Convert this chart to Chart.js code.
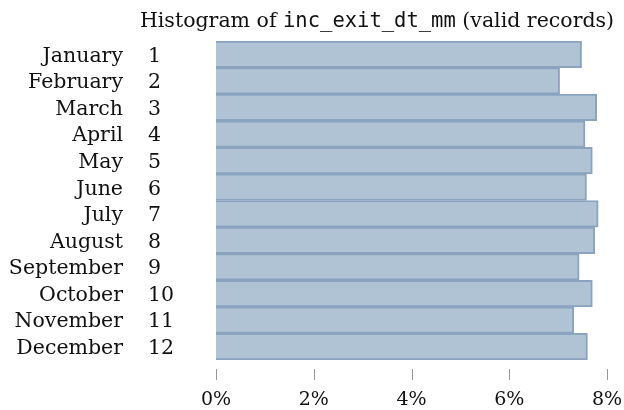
<!DOCTYPE html>
<html>
<head>
<meta charset="utf-8">
<script src="https://cdn.jsdelivr.net/npm/chart.js@4"></script>
<style>
  html, body { margin: 0; padding: 0; background: #fff; }
  #wrap { width: 624px; height: 410px; }
</style>
</head>
<body>
<div id="wrap"><canvas id="histChart"></canvas></div>
<script>
// Share of valid records per exit month (percent)
const months = ['January', 'February', 'March', 'April', 'May', 'June',
    'July', 'August', 'September', 'October', 'November', 'December'];
const monthNums = ['1', '2', '3', '4', '5', '6', '7', '8', '9', '10', '11', '12'];
const shares = [7.48, 7.03, 7.79, 7.55, 7.70, 7.58, 7.82, 7.75, 7.43, 7.70, 7.32, 7.60];
const xTicks = [0, 2, 4, 6, 8];

const serif = '"DejaVu Serif", serif';
const mono = '"DejaVu Sans Mono", monospace';

// Title with the column name set in monospace
const titlePlugin = {
    id: 'mixedTitle',
    afterDraw(chart) {
        const ctx = chart.ctx;
        const parts = [
            { t: 'Histogram of ', f: '20.5px ' + serif },
            { t: 'inc_exit_dt_mm', f: '20.5px ' + mono },
            { t: ' (valid records)', f: '20.5px ' + serif }
        ];
        ctx.save();
        let total = 0;
        parts.forEach(p => { ctx.font = p.f; p.w = ctx.measureText(p.t).width; total += p.w; });
        let x = 377 - total / 2;
        ctx.fillStyle = '#111';
        ctx.textBaseline = 'alphabetic';
        ctx.textAlign = 'left';
        parts.forEach(p => { ctx.font = p.f; ctx.fillText(p.t, x, 27); x += p.w; });
        ctx.restore();
    }
};

// Month name + number columns on the left, short tick marks under the axis
const rowLabels = {
    id: 'rowLabels',
    afterDraw(chart) {
        const ctx = chart.ctx;
        const y = chart.scales.y;
        const x = chart.scales.x;
        ctx.save();
        ctx.font = '20.5px ' + serif;
        ctx.fillStyle = '#111';
        ctx.textBaseline = 'middle';
        months.forEach((m, i) => {
            const py = y.getPixelForValue(i) + 2;
            ctx.textAlign = 'right';
            ctx.fillText(m, 123, py);
            ctx.textAlign = 'left';
            ctx.fillText(monthNums[i], 148, py);
        });
        ctx.strokeStyle = '#999';
        ctx.lineWidth = 1;
        xTicks.forEach(v => {
            const px = Math.round(x.getPixelForValue(v)) + 0.5;
            ctx.beginPath();
            ctx.moveTo(px, x.top + 9);
            ctx.lineTo(px, x.top + 20);
            ctx.stroke();
        });
        ctx.restore();
    }
};

const histCtx = document.getElementById('histChart').getContext('2d');
const histChart = new Chart(histCtx, {
    type: 'bar',
    data: {
        labels: months,
        datasets: [{
            data: shares,
            backgroundColor: '#b0c3d5',
            borderColor: '#8aa3bf',
            borderWidth: 2,
            barPercentage: 1,
            categoryPercentage: 1
        }]
    },
    options: {
        indexAxis: 'y',
        responsive: true,
        maintainAspectRatio: false,
        animation: false,
        layout: { padding: { left: 216, right: 17, top: 41, bottom: 0 } },
        plugins: {
            legend: { display: false },
            tooltip: { enabled: false }
        },
        scales: {
            y: { display: false },
            x: {
                min: 0,
                max: 8,
                afterFit(scale) {
                    scale.height = 50;
                    scale.paddingLeft = 0;
                    scale.paddingRight = 0;
                },
                afterBuildTicks(scale) { scale.ticks = xTicks.map(v => ({ value: v })); },
                border: { display: false },
                grid: { display: false, tickLength: 20 },
                ticks: {
                    padding: 9,
                    color: '#111',
                    font: { family: serif, size: 19 },
                    callback: v => v + '%'
                }
            }
        }
    },
    plugins: [titlePlugin, rowLabels]
});
</script>
</body>
</html>
